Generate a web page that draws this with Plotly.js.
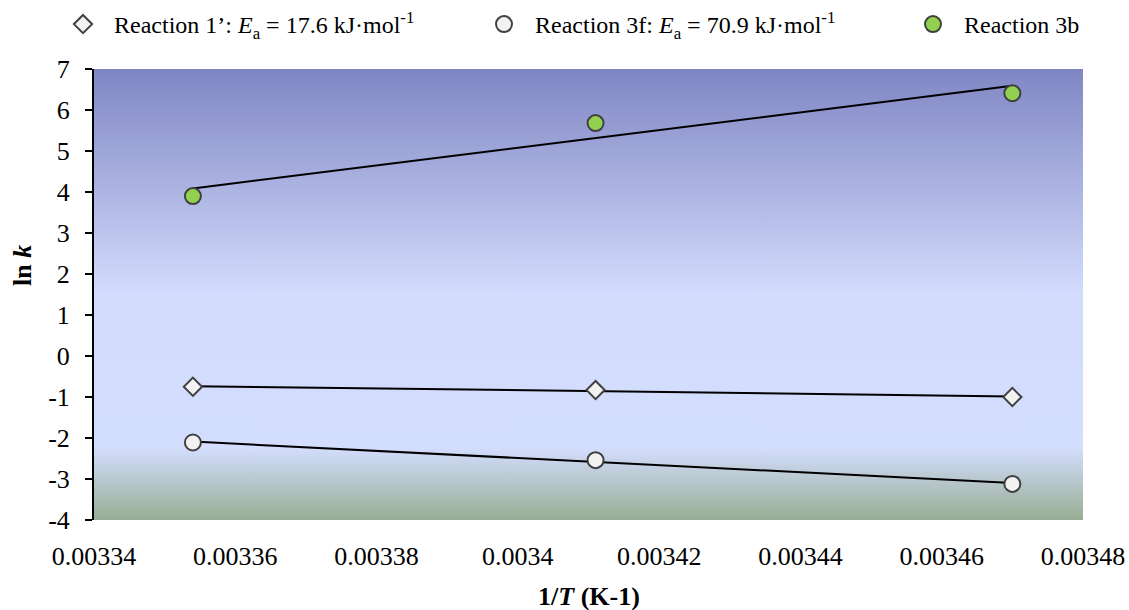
<!DOCTYPE html>
<html>
<head>
<meta charset="utf-8">
<script src="https://cdn.plot.ly/plotly-3.0.1.min.js"></script>
<style>
  html, body { margin: 0; padding: 0; background: #ffffff; }
  #chart { width: 1129px; height: 610px; }
</style>
</head>
<body>
<div id="chart"></div>
<script>
// Arrhenius data: inverse temperature (K^-1) and ln k for each reaction
const invT = [0.003354, 0.003411, 0.003470];
const lnK_r1 = [-0.75, -0.83, -1.00];
const lnK_r3f = [-2.11, -2.54, -3.12];
const lnK_r3b = [3.90, 5.68, 6.41];

const seriesNames = [
  'Reaction 1\u2019: <i>E</i><sub>a</sub> = 17.6 kJ\u00b7mol<sup>-1</sup>',
  'Reaction 3f: <i>E</i><sub>a</sub> = 70.9 kJ\u00b7mol<sup>-1</sup>',
  'Reaction 3b'
];

const xTickVals = [0.00334, 0.00336, 0.00338, 0.00340, 0.00342, 0.00344, 0.00346, 0.00348];
const xTickText = ['0.00334', '0.00336', '0.00338', '0.0034', '0.00342', '0.00344', '0.00346', '0.00348'];
const yTickVals = [-4, -3, -2, -1, 0, 1, 2, 3, 4, 5, 6, 7];
const yTickText = ['-4', '-3', '-2', '-1', '0', '1', '2', '3', '4', '5', '6', '7'];

// Least-squares straight line evaluated at the first and last x
function linearFit(x, y) {
  const n = x.length;
  const mx = x.reduce((a, b) => a + b, 0) / n;
  const my = y.reduce((a, b) => a + b, 0) / n;
  let sxy = 0, sxx = 0;
  for (let i = 0; i < n; i++) {
    sxy += (x[i] - mx) * (y[i] - my);
    sxx += (x[i] - mx) * (x[i] - mx);
  }
  const slope = sxy / sxx;
  const icpt = my - slope * mx;
  const xs = [x[0], x[n - 1]];
  return { x: xs, y: xs.map(v => icpt + slope * v) };
}

const SERIF = 'Liberation Serif, Times New Roman, serif';
const markerLine = { color: '#404040', width: 2 };

const fits = [lnK_r1, lnK_r3f, lnK_r3b].map(y => linearFit(invT, y));
const trendTraces = fits.map(f => ({
  x: f.x, y: f.y, type: 'scatter', mode: 'lines',
  line: { color: '#000000', width: 2 },
  showlegend: false, hoverinfo: 'skip'
}));

const pointTraces = [
  { y: lnK_r1, symbol: 'diamond', size: 14, fill: '#f2f2f2', lw: 354 },
  { y: lnK_r3f, symbol: 'circle', size: 16, fill: '#f2f2f2', lw: 362 },
  { y: lnK_r3b, symbol: 'circle', size: 16, fill: '#92d050', lw: 120 }
].map((s, i) => ({
  x: invT, y: s.y, type: 'scatter', mode: 'markers', name: seriesNames[i],
  legendwidth: s.lw,
  marker: { symbol: s.symbol, size: s.size, color: s.fill, line: markerLine }
}));

// Plot-area background: blue-violet fading to pale blue, then to grey-green
const bgSvg =
  '<svg xmlns="http://www.w3.org/2000/svg" width="100" height="451" preserveAspectRatio="none">' +
  '<defs><linearGradient id="g" x1="0" y1="0" x2="0" y2="1">' +
  '<stop offset="0" stop-color="#8086c3"/>' +
  '<stop offset="0.5" stop-color="#d3dcfd"/>' +
  '<stop offset="0.84" stop-color="#d3ddfd"/>' +
  '<stop offset="1" stop-color="#98ad94"/>' +
  '</linearGradient></defs>' +
  '<rect x="0" y="0" width="100" height="451" fill="url(#g)"/></svg>';

const yMin = -4, yMax = 7;

const layout = {
  width: 1129, height: 610,
  margin: { l: 94, r: 46, t: 69, b: 90, pad: 0, autoexpand: false },
  paper_bgcolor: '#ffffff',
  plot_bgcolor: 'rgba(0,0,0,0)',
  font: { family: SERIF, size: 26, color: '#000000' },
  showlegend: true,
  legend: {
    orientation: 'h', xref: 'paper', yref: 'paper',
    x: (52 - 94) / 989, y: 1 + (69 - 2) / 451, xanchor: 'left', yanchor: 'top',
    font: { family: SERIF, size: 24, color: '#000000' },
    bgcolor: 'rgba(0,0,0,0)', borderwidth: 0,
    itemwidth: 52, entrywidthmode: 'pixels'
  },
  xaxis: {
    range: [0.00334, 0.00348], tickmode: 'array',
    tickvals: xTickVals, ticktext: xTickText,
    showline: false, ticks: '', showgrid: false, zeroline: false,
    ticklabelstandoff: 18,
    tickfont: { family: SERIF, size: 26, color: '#000000' }
  },
  xaxis2: {
    overlaying: 'x', anchor: 'free', position: (0 - yMin) / (yMax - yMin),
    range: [0.00334, 0.00348], tickmode: 'array', tickvals: xTickVals,
    showticklabels: false, showline: true, linecolor: '#000000', linewidth: 2,
    ticks: 'outside', ticklen: 7, tickwidth: 2, tickcolor: '#000000',
    showgrid: false, zeroline: false
  },
  yaxis: {
    range: [yMin, yMax], tickmode: 'array', tickvals: yTickVals, ticktext: yTickText,
    showline: true, linecolor: '#000000', linewidth: 2,
    ticks: 'outside', ticklen: 7, tickwidth: 2, tickcolor: '#000000',
    showgrid: false, zeroline: false,
    ticklabelstandoff: 10,
    tickfont: { family: SERIF, size: 26, color: '#000000' }
  },
  images: [{
    source: 'data:image/svg+xml;charset=utf-8,' + encodeURIComponent(bgSvg),
    xref: 'paper', yref: 'paper', x: 0, y: 1, sizex: 1, sizey: 1,
    xanchor: 'left', yanchor: 'top', sizing: 'stretch', layer: 'below'
  }],
  annotations: [
    {
      text: '<b>1/<i>T</i> (K-1)</b>', xref: 'paper', yref: 'paper',
      x: 0.5, y: (520 - 596) / 451, xanchor: 'center', yanchor: 'middle',
      showarrow: false, font: { family: SERIF, size: 26, color: '#000000' }
    },
    {
      text: '<b>ln <i>k</i></b>', xref: 'paper', yref: 'paper', textangle: -90,
      x: (22 - 94) / 989, y: (520 - 266) / 451, xanchor: 'center', yanchor: 'middle',
      showarrow: false, font: { family: SERIF, size: 26, color: '#000000' }
    }
  ]
};

Plotly.newPlot('chart', trendTraces.concat(pointTraces), layout,
  { displayModeBar: false, staticPlot: true });
</script>
</body>
</html>
